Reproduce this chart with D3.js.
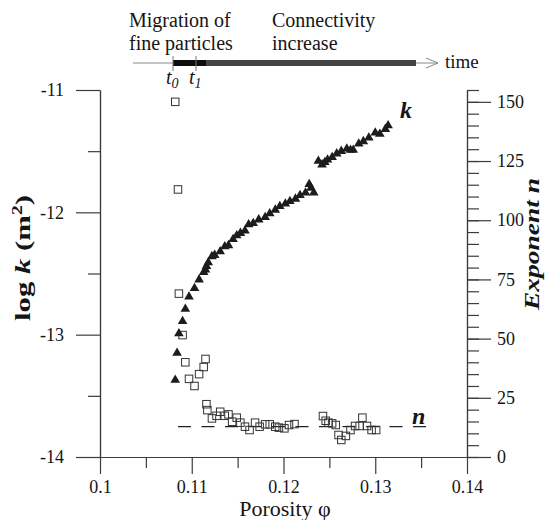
<!DOCTYPE html>
<html>
<head>
<meta charset="utf-8">
<script src="https://cdn.jsdelivr.net/npm/d3@7"></script>
<style>
  html, body { margin: 0; padding: 0; background: #fff; }
  svg { display: block; }
  svg text { font-family: "Liberation Serif", "Times New Roman", serif; }
</style>
</head>
<body>
<svg id="chart" width="545" height="520"></svg>
<script>
// ---------------- DATA ----------------
// Permeability (filled triangles), left axis: log k (m^2)
const phiK = [0.1082,0.1084,0.1086,0.1090,0.1093,0.1097,0.1103,0.1108,0.1113,0.1115,
              0.1116,0.1118,0.1122,0.1125,0.1131,0.1136,0.1140,0.1145,0.1149,0.1153,
              0.1158,0.1162,0.1167,0.1173,0.1180,0.1185,0.1191,0.1196,0.1202,0.1207,
              0.1213,0.1218,0.1224,0.1228,0.1230,0.1233,
              0.1238,0.1242,0.1245,0.1248,0.1253,0.1258,0.1263,0.1269,0.1273,0.1276,
              0.1282,0.1287,0.1293,0.1300,0.1305,0.1311,0.1314];
const logK = [-13.37,-13.15,-12.99,-12.89,-12.79,-12.69,-12.62,-12.55,-12.49,-12.47,
              -12.44,-12.41,-12.36,-12.35,-12.32,-12.28,-12.27,-12.22,-12.19,-12.17,
              -12.15,-12.10,-12.09,-12.06,-12.04,-12.01,-11.98,-11.95,-11.93,-11.91,
              -11.89,-11.86,-11.84,-11.77,-11.80,-11.84,
              -11.58,-11.61,-11.59,-11.57,-11.55,-11.52,-11.50,-11.48,-11.49,-11.49,
              -11.44,-11.42,-11.39,-11.35,-11.36,-11.32,-11.29];

// Exponent n (open squares), right axis
const phiN = [0.1082,0.1085,0.1086,0.1090,0.1093,0.1097,0.1103,0.1108,0.1113,0.1115,
              0.1116,0.1117,0.1122,0.1127,0.1131,0.1136,0.1140,0.1144,0.1149,0.1153,
              0.1158,0.1163,0.1169,0.1174,0.1180,0.1185,0.1191,0.1195,0.1201,0.1206,
              0.1212,0.1243,0.1246,0.1249,0.1253,0.1257,0.1260,0.1263,0.1268,0.1273,
              0.1278,0.1283,0.1286,0.1291,0.1296,0.1301];
const nExp = [150,113,69,51.5,40,33,30,35,38,41.4,
              22.3,19.8,16.3,17.4,19.1,17.4,18.0,14.9,16.6,14.5,
              12.8,11.4,14.5,12.8,13.8,13.8,12.8,12.4,12.1,13.5,
              13.9,17.3,15.3,14.5,14.2,13.5,9.3,7.2,8.9,11.4,
              13.1,13.1,16.6,13.1,11.4,11.4];

// Mean exponent (dashed line)
const nMean = 12.8;
const nMeanRange = [0.1085, 0.1358];

// Axis ticks
const xTicks = [0.1, 0.11, 0.12, 0.13, 0.14];
const xMinorTicks = [0.105, 0.115, 0.125, 0.135];
const leftTicks = [-14, -13, -12, -11];
const leftMinorTicks = [-13.5, -12.5, -11.5];
const rightTicks = [0, 25, 50, 75, 100, 125, 150];
const rightMinorTicks = d3.range(0, 156, 5);

// Timeline annotation
const stageLabels = [["Migration of", "fine particles"], ["Connectivity", "increase"]];
const timeMarks = [{t: "t", sub: "0"}, {t: "t", sub: "1"}];

// ---------------- CHART ----------------
const svg = d3.select("#chart");
const ink = "#151515";
const axisCol = "#3c3c3c";
const serif = '"Liberation Serif", "Times New Roman", serif';

const x = d3.scaleLinear().domain([0.1, 0.14]).range([100, 467]);
const yL = d3.scaleLinear().domain([-14, -11]).range([457, 90]);
const yR = d3.scaleLinear().domain([0, 155]).range([457, 90]);

function styleAxis(g) {
  g.attr("font-family", serif);
  g.selectAll("path.domain").attr("stroke", axisCol).attr("stroke-width", 1.2);
  g.selectAll(".tick line").attr("stroke", axisCol).attr("stroke-width", 1.2);
  g.selectAll(".tick text").attr("fill", ink)
    .style("font-family", serif).style("font-size", "18px");
}

// Minor ticks (drawn first)
svg.append("g").attr("transform", "translate(0,457)")
  .call(d3.axisBottom(x).tickValues(xMinorTicks).tickSize(11).tickSizeOuter(0).tickFormat(""))
  .call(styleAxis);
svg.append("g").attr("transform", "translate(100,0)")
  .call(d3.axisLeft(yL).tickValues(leftMinorTicks).tickSize(12).tickSizeOuter(0).tickFormat(""))
  .call(styleAxis);
svg.append("g").attr("transform", "translate(467,0)")
  .call(d3.axisRight(yR).tickValues(rightMinorTicks).tickSize(12).tickSizeOuter(0).tickFormat(""))
  .call(styleAxis);

// Major axes
svg.append("g").attr("transform", "translate(0,457)")
  .call(d3.axisBottom(x).tickValues(xTicks).tickSize(17).tickSizeOuter(0).tickPadding(6)
        .tickFormat(d => String(+d.toFixed(2))))
  .call(styleAxis);
svg.append("g").attr("transform", "translate(100,0)")
  .call(d3.axisLeft(yL).tickValues(leftTicks).tickSize(24).tickSizeOuter(0).tickPadding(12)
        .tickFormat(d => String(d)))
  .call(styleAxis);
svg.append("g").attr("transform", "translate(467,0)")
  .call(d3.axisRight(yR).tickValues(rightTicks).tickSize(24).tickSizeOuter(0).tickPadding(6))
  .call(styleAxis);

// Axis titles
svg.append("text")
  .attr("transform", "translate(30,258) rotate(-90)")
  .attr("text-anchor", "middle")
  .attr("font-size", 22).attr("font-weight", "bold").attr("fill", ink)
  .attr("textLength", 126).attr("lengthAdjust", "spacingAndGlyphs")
  .call(t => {
    t.append("tspan").text("log ");
    t.append("tspan").attr("font-style", "italic").text("k");
    t.append("tspan").text(" (m");
    t.append("tspan").attr("font-size", 14).attr("dy", -8).text("2");
    t.append("tspan").attr("dy", 8).text(")");
  });

svg.append("text")
  .attr("transform", "translate(539,244) rotate(-90)")
  .attr("text-anchor", "middle")
  .attr("font-size", 22).attr("font-weight", "bold").attr("font-style", "italic").attr("fill", ink)
  .attr("textLength", 132).attr("lengthAdjust", "spacingAndGlyphs")
  .text("Exponent n");

svg.append("text")
  .attr("x", 285).attr("y", 516)
  .attr("text-anchor", "middle")
  .attr("font-size", 22).attr("fill", ink)
  .text("Porosity φ");

// Mean exponent dashed line
svg.append("line")
  .attr("x1", x(nMeanRange[0])).attr("x2", x(nMeanRange[1]))
  .attr("y1", yR(nMean)).attr("y2", yR(nMean))
  .attr("stroke", "#222").attr("stroke-width", 1.2)
  .attr("stroke-dasharray", "13,10.5");

// Exponent n squares
const sq = 7.5;
svg.append("g").selectAll("rect")
  .data(phiN.map((p, i) => ({p, n: nExp[i]})))
  .join("rect")
  .attr("x", d => x(d.p) - sq / 2).attr("y", d => yR(d.n) - sq / 2)
  .attr("width", sq).attr("height", sq)
  .attr("fill", "none").attr("stroke", "#333").attr("stroke-width", 1);

// Permeability triangles
const tri = d3.symbol().type(d3.symbolTriangle).size(40);
svg.append("g").selectAll("path")
  .data(phiK.map((p, i) => ({p, k: logK[i]})))
  .join("path")
  .attr("d", tri)
  .attr("transform", d => `translate(${x(d.p)},${yL(d.k)})`)
  .attr("fill", "#1c1c1c");

// Series labels
svg.append("text").attr("x", 400).attr("y", 118)
  .attr("font-size", 24).attr("font-weight", "bold").attr("font-style", "italic").attr("fill", ink)
  .text("k");
svg.append("text").attr("x", 412).attr("y", 424)
  .attr("font-size", 24).attr("font-weight", "bold").attr("font-style", "italic").attr("fill", ink)
  .text("n");

// ---------------- TIMELINE ----------------
const tl = svg.append("g");
const tlY = 63;
const tlStart = 133, tlEnd = 438, t0x = 173, t1x = 196, barEnd = 416;
tl.append("line").attr("x1", tlStart).attr("x2", tlEnd).attr("y1", tlY).attr("y2", tlY)
  .attr("stroke", "#8a8a8a").attr("stroke-width", 1);
tl.append("path").attr("d", `M${tlEnd - 12},${tlY - 5}L${tlEnd},${tlY}L${tlEnd - 12},${tlY + 5}`)
  .attr("fill", "none").attr("stroke", "#8a8a8a").attr("stroke-width", 1);
tl.append("rect").attr("x", t1x).attr("y", tlY - 3).attr("width", barEnd - t1x).attr("height", 6)
  .attr("fill", "#444");
tl.append("rect").attr("x", t0x).attr("y", tlY - 3).attr("width", 206 - t0x).attr("height", 6)
  .attr("fill", "#0d0d0d");
[t0x, t1x].forEach(px => {
  tl.append("line").attr("x1", px).attr("x2", px).attr("y1", 56).attr("y2", 71)
    .attr("stroke", "#777").attr("stroke-width", 1);
});
stageLabels.forEach((lines, i) => {
  const lx = i === 0 ? 129 : 272;
  lines.forEach((s, j) => {
    tl.append("text").attr("x", lx).attr("y", 27 + j * 23)
      .attr("font-size", 20).attr("fill", ink).text(s);
  });
});
tl.append("text").attr("x", 445).attr("y", 68).attr("font-size", 19).attr("fill", ink).text("time");
timeMarks.forEach((m, i) => {
  const px = i === 0 ? 166 : 189;
  const t = tl.append("text").attr("x", px).attr("y", 84).attr("font-size", 20)
    .attr("font-style", "italic").attr("fill", ink);
  t.append("tspan").text(m.t);
  t.append("tspan").attr("font-size", 14).attr("dy", 4).text(m.sub);
});
</script>
</body>
</html>
